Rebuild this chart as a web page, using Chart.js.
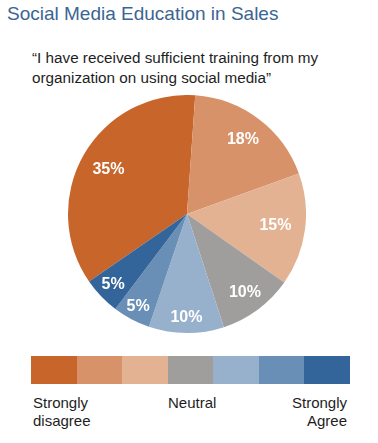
<!DOCTYPE html>
<html>
<head>
<meta charset="utf-8">
<script src="https://cdn.jsdelivr.net/npm/chart.js@4"></script>
<style>
  html, body { margin: 0; padding: 0; background: #fff; }
  body { width: 378px; height: 443px; position: relative; overflow: hidden;
         font-family: "Liberation Sans", Arial, Helvetica, sans-serif; }
  #title { position: absolute; left: 7px; top: 2px; font-size: 19px; color: #3b6592; white-space: nowrap; line-height: 24px; }
  #subtitle { position: absolute; left: 32px; top: 48px; font-size: 15.25px; color: #1e1e1e; line-height: 19.5px; white-space: nowrap; }
  #pieWrap { position: absolute; left: 68px; top: 95px; width: 238px; height: 238px; }
  #legendBar { position: absolute; left: 31px; top: 356px; width: 319px; height: 28px; display: flex; }
  #legendBar div { flex: 1; height: 100%; }
  .lab { position: absolute; font-size: 15px; color: #1e1e1e; line-height: 17.5px; white-space: nowrap; }
</style>
</head>
<body>
<div id="title"></div>
<div id="subtitle"></div>
<div id="pieWrap"><canvas id="pie" width="238" height="238"></canvas></div>
<div id="legendBar"></div>
<div class="lab" id="labL" style="left:33px; top:394px;"></div>
<div class="lab" id="labM" style="left:168px; top:394px;"></div>
<div class="lab" id="labR" style="right:31px; top:394px; text-align:right;"></div>
<script>
// ---- data ----
const titleText = "Social Media Education in Sales";
const subtitleLines = ["\u201CI have received sufficient training from my", "organization on using social media\u201D"];
const categories = ["Strongly disagree", "Disagree", "Somewhat disagree", "Neutral", "Somewhat agree", "Agree", "Strongly Agree"];
const values = [35, 18, 15, 10, 10, 5, 5];
const sliceLabels = ["35%", "18%", "15%", "10%", "10%", "5%", "5%"];
const legendTexts = [["Strongly", "disagree"], ["Neutral"], ["Strongly", "Agree"]];

// ---- styles ----
const colors = ["#c8652b", "#d8926a", "#e3b293", "#a09e9c", "#97b1cc", "#6a8fb6", "#34659a"];
const labelRadius = [0.76, 0.78, 0.75, 0.82, 0.87, 0.88, 0.86];

document.getElementById('title').textContent = titleText;
document.getElementById('subtitle').innerHTML = subtitleLines.join('<br>');
const bar = document.getElementById('legendBar');
colors.forEach(c => { const d = document.createElement('div'); d.style.background = c; bar.appendChild(d); });
document.getElementById('labL').innerHTML = legendTexts[0].join('<br>');
document.getElementById('labM').innerHTML = legendTexts[1].join('<br>');
document.getElementById('labR').innerHTML = legendTexts[2].join('<br>');

const sliceLabelPlugin = {
  id: 'sliceLabels',
  afterDatasetsDraw(chart) {
    const ctx = chart.ctx;
    const meta = chart.getDatasetMeta(0);
    ctx.save();
    ctx.fillStyle = '#ffffff';
    ctx.font = 'bold 16px "Liberation Sans", Arial, sans-serif';
    ctx.textAlign = 'center';
    ctx.textBaseline = 'middle';
    meta.data.forEach((arc, i) => {
      const p = arc.getProps(['x', 'y', 'startAngle', 'endAngle', 'outerRadius'], true);
      const mid = (p.startAngle + p.endAngle) / 2;
      const r = p.outerRadius * labelRadius[i];
      ctx.fillText(sliceLabels[i], p.x + Math.cos(mid) * r, p.y + Math.sin(mid) * r);
    });
    ctx.restore();
  }
};

new Chart(document.getElementById('pie'), {
  type: 'pie',
  data: {
    labels: categories,
    datasets: [{ data: values, backgroundColor: colors, borderWidth: 0 }]
  },
  options: {
    responsive: false,
    animation: false,
    rotation: -124.6,
    layout: { padding: 0 },
    plugins: { legend: { display: false }, tooltip: { enabled: false } }
  },
  plugins: [sliceLabelPlugin]
});
</script>
</body>
</html>
